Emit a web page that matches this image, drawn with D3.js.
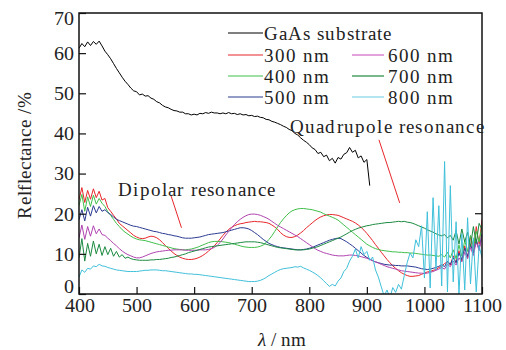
<!DOCTYPE html>
<html><head><meta charset="utf-8">
<script src="https://cdn.jsdelivr.net/npm/d3@7"></script>
<style>
@font-face { font-family: "ChartSerif"; src: local("Liberation Serif"), local("LiberationSerif"), local("LiberationSerif-Regular"), local("Times New Roman"); font-style: normal; }
@font-face { font-family: "ChartSerif"; src: local("Liberation Serif Italic"), local("LiberationSerif-Italic"); font-style: italic; }
body { margin: 0; background: #fff; }
svg text, svg tspan { font-family: "ChartSerif", "Liberation Serif", "Times New Roman", serif !important; }
</style>
</head><body><svg id="c" width="506" height="350"></svg>
<script>
// ---------------- data ----------------
const wavelengths = d3.range(400, 1101, 5);
const xTicks = [400, 500, 600, 700, 800, 900, 1000, 1100];
const yTicks = [0, 10, 20, 30, 40, 50, 60, 70];
const seriesNames = ["GaAs substrate", "300 nm", "400 nm", "500 nm", "600 nm", "700 nm", "800 nm"];

const gaas = [
61.2,62.4,61.6,62.8,61.9,62.9,62.2,63.0,61.8,60.5,
59.6,58.6,57.4,56.2,55.1,54.0,53.0,52.2,51.3,50.6,
50.4,49.6,49.8,49.3,49.4,48.8,48.5,47.9,47.6,47.0,
46.6,46.4,46.0,45.7,45.6,45.3,45.3,44.9,44.9,44.6,
44.8,44.6,45.0,44.9,45.2,45.0,45.3,45.1,45.1,44.9,
45.1,44.9,45.2,44.9,45.0,44.7,44.9,44.6,44.7,44.4,
44.5,44.2,44.3,44.0,43.9,43.5,43.4,43.0,42.8,42.5,
42.2,41.8,41.5,41.0,40.7,40.0,39.6,38.9,38.3,37.8,
37.2,36.4,36.0,35.0,35.3,34.2,34.6,33.2,33.8,32.6,
34.0,33.6,34.8,35.2,36.5,35.3,35.8,33.9,34.4,32.8,
33.5,27.0];

const r300 = [
23.5,26.5,22.8,25.8,23.6,26.2,24.0,25.6,23.4,23.8,
21.5,20.6,19.6,18.7,17.6,17.0,16.4,15.8,15.2,14.6,
14.2,13.9,13.8,13.9,14.2,14.4,14.3,14.0,13.5,12.8,
12.1,11.4,10.7,10.1,9.6,9.2,8.9,8.7,8.6,8.6,
8.7,8.9,9.2,9.6,10.1,10.7,11.3,12.0,12.8,13.7,
14.6,15.4,16.1,16.6,17.0,17.3,17.5,17.6,17.8,17.9,
18.0,18.1,18.0,18.0,17.9,17.8,17.6,17.2,16.7,16.1,
15.3,14.7,14.3,14.1,14.1,14.3,14.7,15.2,15.8,16.5,
17.1,17.7,18.3,18.8,19.2,19.5,19.7,19.8,19.8,19.7,
19.6,19.3,19.0,18.7,18.4,18.1,17.7,17.2,16.6,15.9,
15.1,14.2,13.3,12.3,11.4,10.4,9.5,8.6,7.8,7.0,
6.4,5.8,5.3,4.9,4.6,4.4,4.4,4.5,4.6,4.9,
5.2,5.5,5.6,5.9,6.1,6.6,6.9,7.6,8.0,7.2,
9.5,7.8,10.8,8.2,12.0,9.0,14.5,10.2,16.8,12.5,
18.5];

const r400 = [
22.0,24.8,20.6,24.2,21.8,24.6,22.4,23.8,22.6,21.8,
20.5,19.6,18.6,17.6,16.8,16.0,15.4,14.9,14.4,14.0,
13.7,13.5,13.4,13.3,13.1,12.9,12.7,12.5,12.3,12.1,
11.9,11.7,11.5,11.3,11.2,11.1,11.0,11.0,11.1,11.2,
11.4,11.6,11.9,12.2,12.5,12.8,13.0,13.1,13.1,13.1,
13.0,12.9,12.8,12.6,12.4,12.2,12.0,11.8,11.7,11.6,
11.6,11.6,11.7,11.9,12.2,12.8,13.6,14.5,15.6,16.7,
17.8,18.7,19.5,20.2,20.7,21.0,21.2,21.3,21.3,21.2,
21.1,21.0,20.8,20.6,20.4,20.0,19.7,19.4,19.1,18.8,
18.4,17.8,17.2,16.6,16.0,15.4,14.8,14.2,13.6,13.0,
12.4,12.0,11.6,11.3,11.1,10.9,10.8,10.7,10.6,10.5,
10.5,10.4,10.4,10.3,10.3,10.2,10.2,10.1,10.0,9.9,
9.8,9.7,9.7,9.6,9.5,9.4,9.8,9.2,10.4,9.0,
11.0,8.8,12.2,9.4,13.4,10.6,14.6,11.8,15.6,13.0,
17.0];

const r500 = [
18.5,21.0,18.2,21.6,19.4,22.0,20.2,21.8,20.6,21.0,
20.3,19.8,19.2,18.6,18.3,18.0,17.7,17.4,17.1,16.9,
16.8,16.6,16.4,16.2,16.0,15.8,15.6,15.5,15.3,15.1,
15.0,14.8,14.7,14.5,14.4,14.2,14.0,13.9,13.9,13.9,
14.0,14.1,14.2,14.4,14.6,14.8,14.9,15.0,15.1,15.2,
15.3,15.5,15.7,15.9,16.1,16.3,16.5,16.5,16.4,16.2,
15.8,15.3,14.8,14.2,13.6,13.1,12.6,12.3,12.0,11.8,
11.6,11.5,11.4,11.3,11.2,11.1,11.0,11.0,11.1,11.2,
11.4,11.6,11.9,12.2,12.5,12.8,13.1,13.4,13.6,13.8,
13.9,13.8,13.4,13.0,12.5,12.0,11.4,10.8,10.2,9.6,
9.1,8.7,8.3,8.0,7.8,7.6,7.4,7.3,7.2,7.2,
7.1,7.1,7.0,7.0,7.0,6.9,6.8,6.7,6.5,6.3,
6.2,6.1,6.2,6.4,6.6,6.9,7.3,6.8,8.2,7.4,
9.0,7.8,10.2,8.6,11.4,9.4,12.4,10.2,13.6,11.2,
15.0];

const r600 = [
14.0,17.2,13.6,16.8,14.4,17.0,15.0,16.2,14.8,14.6,
13.9,13.3,12.6,12.0,11.3,10.7,10.2,9.8,9.5,9.2,
9.0,9.0,9.2,9.5,9.8,10.1,10.3,10.5,10.6,10.7,
10.8,10.9,10.9,11.0,11.0,11.0,11.0,10.9,10.9,10.9,
10.9,10.9,11.0,11.0,11.0,11.1,11.3,11.6,12.1,12.8,
13.7,14.7,15.6,16.5,17.3,18.0,18.6,19.1,19.5,19.8,
19.9,19.9,19.8,19.6,19.3,19.0,18.6,18.1,17.6,17.1,
16.7,16.3,15.9,15.5,15.1,14.7,14.3,13.8,13.3,12.8,
12.3,11.8,11.3,10.9,10.6,10.3,10.1,9.9,9.7,9.6,
9.5,9.5,9.5,9.6,9.7,9.7,9.6,9.5,9.3,9.1,
8.9,8.6,8.3,8.0,7.7,7.4,7.1,6.8,6.6,6.4,
6.2,6.0,5.8,5.7,5.6,5.5,5.4,5.3,5.2,5.2,
5.1,5.2,5.4,5.6,5.9,6.2,6.6,6.2,7.4,6.8,
8.2,7.2,9.0,8.0,10.4,8.8,11.6,9.6,13.0,10.8,
14.5];

const r700 = [
9.0,13.8,8.2,12.6,9.4,13.2,10.0,12.4,9.6,11.8,
9.8,11.4,9.4,10.6,9.2,9.8,8.9,9.2,8.8,8.6,
8.5,8.4,8.4,8.4,8.4,8.5,8.5,8.6,8.6,8.7,
8.8,8.9,9.1,9.2,9.4,9.6,9.8,10.0,10.3,10.5,
10.7,10.9,11.1,11.3,11.5,11.7,11.8,11.9,12.0,12.1,
12.2,12.3,12.4,12.5,12.6,12.7,12.8,12.9,13.0,13.0,
13.0,13.0,12.9,12.8,12.6,12.4,12.2,12.0,11.8,11.6,
11.5,11.4,11.3,11.2,11.1,11.0,11.0,11.0,11.0,11.1,
11.2,11.4,11.6,11.8,12.1,12.4,12.7,13.0,13.3,13.6,
13.9,14.2,14.6,15.0,15.4,15.8,16.1,16.4,16.6,16.8,
17.0,17.1,17.3,17.4,17.5,17.6,17.7,17.8,17.8,17.9,
18.0,18.1,18.0,18.1,17.9,17.8,17.6,17.3,17.0,16.7,
16.4,16.0,15.7,15.4,15.0,14.7,14.5,14.8,14.0,14.6,
13.4,15.8,12.4,16.2,13.0,15.4,11.8,16.8,12.6,17.6,
16.0];

const r800 = [
4.2,6.0,5.4,6.4,6.2,7.0,6.8,7.4,7.0,6.9,
6.6,6.4,6.2,6.0,5.9,5.8,5.7,5.6,5.6,5.6,
5.6,5.7,5.8,5.9,5.9,6.0,6.0,6.0,5.9,5.8,
5.8,5.7,5.6,5.5,5.4,5.3,5.2,5.1,5.0,5.0,
4.9,4.9,4.8,4.7,4.6,4.5,4.4,4.3,4.2,4.1,
4.0,3.9,3.8,3.7,3.6,3.5,3.4,3.3,3.2,3.1,
3.1,3.1,3.2,3.4,3.7,4.1,4.6,5.0,5.4,5.8,
6.1,6.3,6.4,6.5,6.6,6.8,6.7,6.9,6.5,6.2,
5.9,5.5,5.1,4.6,4.0,3.3,2.6,1.9,2.4,2.0,
3.2,4.0,5.6,6.4,8.2,9.4,11.2,9.0,11.8,9.8,
10.6,8.4,9.2,6.0,4.2,1.8,-0.5,1.0,-1.0,1.6,
0.4,2.4,1.2,4.6,7.8,10.2,9.0,13.5,11.8,17.0,
4.0,20.5,1.5,24.0,6.0,22.0,2.0,33.0,0.5,27.0,
3.0,18.0,0.0,15.0,1.0,19.0,2.5,14.0,0.5,12.0,
9.0];

const seriesValues = [gaas, r300, r400, r500, r600, r700, r800];
const colors = ["#000000", "#e8262b", "#3fbf4a", "#2b3a92", "#b043b0", "#1b8a40", "#3fc0da"];
const legendColors = ["#000000", "#e8262b", "#3fbf4a", "#2b3a92", "#d063c4", "#1b8a40", "#7fd3e6"];

// annotation text/arrows in data units
const annotations = [
  {text: "Dipolar resonance", tx: 468, ty: 24.4, from: [560, 24.4], to: [578, 16.5]},
  {text: "Quadrupole resonance", tx: 766, ty: 40, from: [921, 38.4], to: [957, 22.7]}
];

// ---------------- chart ----------------
const FONT = "ChartSerif, Liberation Serif, serif";
const svg = d3.select("#c");
svg.append("rect").attr("width", 506).attr("height", 350).attr("fill", "#fff");
const L = 79, R = 482, T = 13, B = 294;
const x = d3.scaleLinear().domain([400, 1100]).range([L, R]);
const y = d3.scaleLinear().domain([0, 70]).range([B, T]);

function txt(sel, size) {
  return sel.attr("font-family", FONT)
    .style("font-family", FONT, "important")
    .attr("font-size", size)
    .style("font-size", size + "px", "important")
    .attr("fill", "#222");
}

svg.append("defs").append("clipPath").attr("id", "clip")
  .append("rect").attr("x", L).attr("y", T).attr("width", R - L).attr("height", B - T);

const plot = svg.append("g").attr("clip-path", "url(#clip)");
const line = d3.line()
  .defined(d => d[1] != null)
  .x(d => x(d[0])).y(d => y(d[1]));

seriesValues.forEach((vals, i) => {
  const pts = vals.map((v, j) => [wavelengths[j], v]);
  plot.append("path").datum(pts)
    .attr("d", line).attr("fill", "none")
    .attr("stroke", colors[i]).attr("stroke-width", 1)
    .attr("stroke-linejoin", "round");
});

// axes
const xAxis = svg.append("g").attr("transform", `translate(0,${B})`)
  .call(d3.axisBottom(x).tickValues(xTicks).tickFormat(d3.format("d"))
    .tickSizeInner(-7).tickSizeOuter(0).tickPadding(4));
const yAxis = svg.append("g").attr("transform", `translate(${L},0)`)
  .call(d3.axisLeft(y).tickValues(yTicks).tickFormat(d3.format("d"))
    .tickSizeInner(-7).tickSizeOuter(0).tickPadding(5));
[xAxis, yAxis].forEach(a => {
  a.attr("font-family", FONT).attr("font-size", 20);
  a.select(".domain").remove();
  a.selectAll("line").attr("stroke", "#111").attr("stroke-width", 1.2);
  txt(a.selectAll("text"), 20);
});
yAxis.selectAll(".tick").filter(d => d === 70).select("text").attr("dy", "0.55em");
yAxis.selectAll(".tick").filter(d => d === 0).select("text").attr("dy", "-0.1em");
// right-side tick
svg.append("line").attr("x1", R).attr("x2", R - 7).attr("y1", y(20)).attr("y2", y(20))
  .attr("stroke", "#111").attr("stroke-width", 1.2);

// frame
svg.append("rect").attr("x", L).attr("y", T).attr("width", R - L).attr("height", B - T)
  .attr("fill", "none").attr("stroke", "#111").attr("stroke-width", 1.5);

// axis titles
txt(svg.append("text"), 19).attr("transform", `translate(31,155) rotate(-90)`)
  .attr("text-anchor", "middle").attr("letter-spacing", 0.6).text("Relflectance /%");
const xl = txt(svg.append("text"), 19).attr("x", 282).attr("y", 346).attr("text-anchor", "middle");
xl.append("tspan").attr("font-style", "italic").text("λ");
xl.append("tspan").text(" / nm");

// legend
const legendRows = [
  {i: 0, col: 0, row: 0},
  {i: 1, col: 0, row: 1}, {i: 2, col: 0, row: 2}, {i: 3, col: 0, row: 3},
  {i: 4, col: 1, row: 1}, {i: 5, col: 1, row: 2}, {i: 6, col: 1, row: 3}
];
const rowY = [33, 55, 76, 97];
const colX = [[228, 263], [352, 384]];
const lg = svg.append("g");
legendRows.forEach(e => {
  const ly = rowY[e.row];
  lg.append("line").attr("x1", colX[e.col][0]).attr("x2", colX[e.col][1])
    .attr("y1", ly).attr("y2", ly).attr("stroke", legendColors[e.i]).attr("stroke-width", 1.2);
  txt(lg.append("text"), 19).attr("x", colX[e.col][1] + (e.col ? 4 : 1)).attr("y", ly + 7)
    .attr("letter-spacing", 1).text(seriesNames[e.i]);
});

// annotations
annotations.forEach(a => {
  txt(svg.append("text"), 19).attr("x", x(a.tx)).attr("y", y(a.ty))
    .attr("letter-spacing", 1.2).text(a.text);
  svg.append("line").attr("x1", x(a.from[0])).attr("y1", y(a.from[1]))
    .attr("x2", x(a.to[0])).attr("y2", y(a.to[1]))
    .attr("stroke", "#e8262b").attr("stroke-width", 1);
});
</script></body></html>
